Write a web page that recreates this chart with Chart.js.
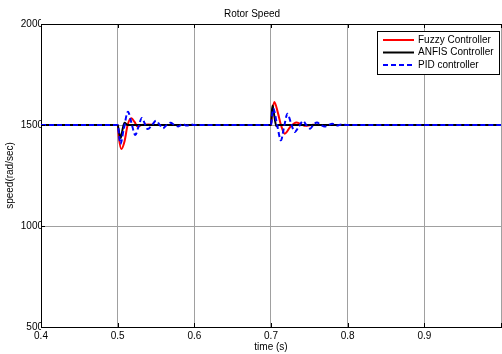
<!DOCTYPE html>
<html>
<head>
<meta charset="utf-8">
<title>Rotor Speed</title>
<script src="https://cdn.jsdelivr.net/npm/chart.js@4"></script>
<style>
  html, body { margin: 0; padding: 0; background: #fff; overflow: hidden; }
  canvas { display: block; }
</style>
</head>
<body>
<canvas id="speedChart" width="504" height="354"></canvas>
<script>
// time (s) and speed (rad/sec)
const fuzzyTime  = [0.4, 0.5, 0.5015, 0.5047, 0.509, 0.513, 0.518, 0.522, 0.526, 0.531, 0.54, 0.55,
                    0.7, 0.7015, 0.7043, 0.709, 0.713, 0.718, 0.725, 0.733, 0.74, 0.745, 0.755, 0.76, 1.0];
const fuzzySpeed = [1500, 1500, 1440, 1381, 1420, 1500, 1533, 1515, 1492, 1500, 1502, 1500,
                    1500, 1560, 1614, 1560, 1500, 1457, 1490, 1512, 1502, 1496, 1501, 1500, 1500];

const anfisTime  = [0.4, 0.5, 0.502, 0.504, 0.5065, 0.509, 0.512, 0.515,
                    0.7, 0.701, 0.702, 0.7045, 0.707, 0.71, 1.0];
const anfisSpeed = [1500, 1500, 1460, 1436, 1480, 1511, 1502, 1500,
                    1500, 1560, 1597, 1540, 1494, 1500, 1500];

const pidTime  = [0.4, 0.5, 0.5018, 0.5035, 0.508, 0.5134, 0.518, 0.523, 0.527, 0.5316, 0.535, 0.539,
                  0.545, 0.55, 0.555, 0.559, 0.564, 0.569, 0.574, 0.579, 0.585, 0.59, 0.596, 0.6,
                  0.7, 0.7015, 0.703, 0.708, 0.713, 0.717, 0.7215, 0.726, 0.731, 0.736, 0.742, 0.746,
                  0.751, 0.755, 0.76, 0.765, 0.77, 0.775, 0.78, 0.786, 0.792, 0.8, 1.0];
const pidSpeed = [1500, 1500, 1450, 1406, 1480, 1566, 1510, 1450, 1490, 1535, 1510, 1480,
                  1500, 1521, 1500, 1484, 1500, 1511, 1500, 1493, 1505, 1497, 1502, 1500,
                  1500, 1550, 1581, 1500, 1424, 1490, 1556, 1510, 1465, 1490, 1520, 1500,
                  1482, 1500, 1512, 1500, 1492, 1500, 1506, 1497, 1503, 1500, 1500];

const xTicks = [0.4, 0.5, 0.6, 0.7, 0.8, 0.9, 1.0];
const yTicks = [500, 1000, 1500, 2000];

const FONT = '"Liberation Sans", Arial, sans-serif';

function toPoints(times, values) {
  return times.map((t, i) => ({ x: t, y: values[i] }));
}

// MATLAB-style box: top edge, inward ticks and the legend
const axesBox = {
  id: 'axesBox',
  afterDraw(chart) {
    const { ctx, chartArea: a, scales } = chart;
    ctx.save();
    ctx.strokeStyle = '#000';
    ctx.lineWidth = 1;
    ctx.beginPath();
    ctx.moveTo(a.left, a.top + 0.5);
    ctx.lineTo(a.right, a.top + 0.5);
    xTicks.forEach(v => {
      const px = Math.round(scales.x.getPixelForValue(v)) + 0.5;
      ctx.moveTo(px, a.top);
      ctx.lineTo(px, a.top + 4);
      ctx.moveTo(px, a.bottom);
      ctx.lineTo(px, a.bottom - 4);
    });
    yTicks.forEach(v => {
      const py = Math.round(scales.y.getPixelForValue(v)) + 0.5;
      ctx.moveTo(a.left, py);
      ctx.lineTo(a.left + 4, py);
    });
    ctx.stroke();

    // legend
    const bx = 377.5, by = 31.5, bw = 122, bh = 43;
    ctx.fillStyle = '#fff';
    ctx.fillRect(bx, by, bw, bh);
    ctx.strokeRect(bx, by, bw, bh);
    ctx.font = '10px ' + FONT;
    ctx.textBaseline = 'middle';
    ctx.textAlign = 'left';
    chart.data.datasets.forEach((ds, i) => {
      const y = 40 + i * 12.5;
      ctx.strokeStyle = ds.borderColor;
      ctx.lineWidth = ds.borderWidth;
      ctx.setLineDash(ds.borderDash || []);
      ctx.beginPath();
      ctx.moveTo(383, y);
      ctx.lineTo(414, y);
      ctx.stroke();
      ctx.setLineDash([]);
      ctx.fillStyle = '#000';
      ctx.fillText(ds.label, 418, y);
    });
    ctx.restore();
  }
};

new Chart(document.getElementById('speedChart'), {
  type: 'line',
  data: {
    datasets: [
      {
        label: 'Fuzzy Controller',
        data: toPoints(fuzzyTime, fuzzySpeed),
        borderColor: '#ff0000',
        borderWidth: 2,
        order: 3,
      },
      {
        label: 'ANFIS Controller',
        data: toPoints(anfisTime, anfisSpeed),
        borderColor: '#000000',
        borderWidth: 2,
        order: 2,
      },
      {
        label: 'PID controller',
        data: toPoints(pidTime, pidSpeed),
        borderColor: '#0000ff',
        borderWidth: 2,
        borderDash: [5, 3],
        order: 1,
      },
    ],
  },
  options: {
    responsive: false,
    animation: false,
    layout: { padding: 0 },
    elements: {
      point: { radius: 0 },
      line: { cubicInterpolationMode: 'monotone', fill: false },
    },
    plugins: {
      legend: { display: false },
      tooltip: { enabled: false },
      title: {
        display: true,
        text: 'Rotor Speed',
        color: '#000',
        font: { family: FONT, size: 10, weight: 'normal', lineHeight: 1.2 },
        padding: { top: 8, bottom: 4 },
      },
    },
    scales: {
      x: {
        type: 'linear',
        min: 0.4,
        max: 1.0,
        afterBuildTicks: (scale) => { scale.ticks = xTicks.map(v => ({ value: v })); },
        afterFit: (scale) => { scale.height = 27; },
        ticks: {
          color: '#000',
          padding: 3,
          font: { family: FONT, size: 10 },
          maxRotation: 0,
          callback: (v) => (v >= 1 ? '' : Number(v).toFixed(1)),
        },
        grid: { color: '#a0a0a0', lineWidth: 1, drawTicks: false },
        border: { color: '#000', width: 1 },
        title: {
          display: true,
          text: 'time (s)',
          color: '#000',
          font: { family: FONT, size: 10, lineHeight: 1.2 },
          padding: { top: 0, bottom: 1 },
        },
      },
      y: {
        min: 500,
        max: 2000,
        afterBuildTicks: (scale) => { scale.ticks = yTicks.map(v => ({ value: v })); },
        afterFit: (scale) => { scale.width = 41; },
        ticks: {
          color: '#000',
          padding: -2,
          font: { family: FONT, size: 10 },
          callback: (v) => String(v),
        },
        grid: { color: '#a0a0a0', lineWidth: 1, drawTicks: false },
        border: { color: '#000', width: 1 },
        title: {
          display: true,
          text: 'speed(rad/sec)',
          color: '#000',
          font: { family: FONT, size: 10, lineHeight: 1.2 },
          padding: { top: 4, bottom: 0 },
        },
      },
    },
  },
  plugins: [axesBox],
});
</script>
</body>
</html>
